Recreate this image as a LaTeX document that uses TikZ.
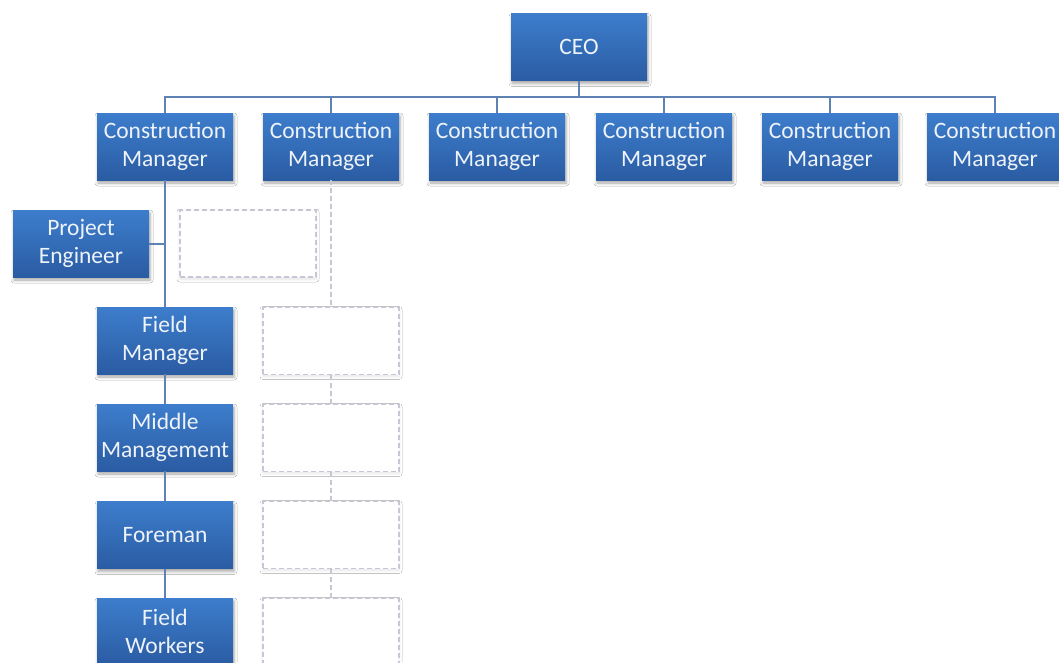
\documentclass[tikz,border=0pt]{standalone}
\usepackage{fontspec}
\setmainfont{Carlito}
\usetikzlibrary{shadows.blur}
\definecolor{boxtop}{HTML}{3D7DCC}
\definecolor{boxbot}{HTML}{2A5CA3}
\definecolor{linkblue}{HTML}{5E82B4}
\definecolor{ghost}{HTML}{C6C6D6}
\definecolor{labeltext}{HTML}{EEF3FA}
\begin{document}
\begin{tikzpicture}[x=1pt,y=-1pt,
  role/.style={rectangle, minimum width=136pt, minimum height=67pt, inner sep=0pt,
    top color=boxtop, bottom color=boxbot, draw=none, text=labeltext,
    align=center, font=\fontsize{23.5}{27.5}\selectfont,
    blur shadow={shadow xshift=1pt, shadow yshift=-3pt, shadow blur radius=3pt, shadow opacity=35}},
  ghostbox/.style={rectangle, minimum width=136pt, minimum height=67pt, inner sep=0pt,
    draw=ghost, line width=1.3pt, dash pattern=on 5pt off 3pt, fill=white,
    blur shadow={shadow xshift=0pt, shadow yshift=-2pt, shadow blur radius=3pt, shadow opacity=10}},
  link/.style={draw=linkblue, line width=2pt},
  ghostlink/.style={draw=ghost, line width=1.3pt, dash pattern=on 5pt off 3pt}]
\useasboundingbox (0,0) rectangle (1059,662);
\fill[white] (0,0) rectangle (1059,662);

% top level
\node[role] (ceo) at (579,47) {CEO};

% construction managers
\node[role] (cm1) at (165,146.5) {Construction\\Manager};
\node[role] (cm2) at (331,146.5) {Construction\\Manager};
\node[role] (cm3) at (497,146.5) {Construction\\Manager};
\node[role] (cm4) at (664,146.5) {Construction\\Manager};
\node[role] (cm5) at (830,146.5) {Construction\\Manager};
\node[role] (cm6) at (995,146.5) {Construction\\Manager};

% first branch
\node[role] (pe) at (81,243.5) {Project\\Engineer};
\node[role] (fm) at (165,340.5) {Field\\Manager};
\node[role] (mm) at (165,437.5) {Middle\\Management};
\node[role] (fore) at (165,535) {Foreman};
\node[role] (fw) at (165,631.5) {Field\\Workers};

% empty placeholders of the second branch
\node[ghostbox] (ga) at (248,243.5) {};
\node[ghostbox] (g1) at (331,341) {};
\node[ghostbox] (g2) at (331,438) {};
\node[ghostbox] (g3) at (331,535) {};
\node[ghostbox] (g4) at (331,632) {};

% CEO to managers
\foreach \m in {cm1,cm2,cm3,cm4,cm5,cm6}
  \draw[link] (ceo.south) -- ++(0,16) -| (\m.north);

% first branch links
\draw[link] (cm1.south) -- (fm.north);
\draw[link] (pe.east) -- (pe.east -| cm1.south);
\draw[link] (fm.south) -- (mm.north);
\draw[link] (mm.south) -- (fore.north);
\draw[link] (fore.south) -- (fw.north);

% second branch links
\draw[ghostlink] (cm2.south) -- (g1.north);
\draw[ghostlink] (g1.south) -- (g2.north);
\draw[ghostlink] (g2.south) -- (g3.north);
\draw[ghostlink] (g3.south) -- (g4.north);
\end{tikzpicture}
\end{document}
